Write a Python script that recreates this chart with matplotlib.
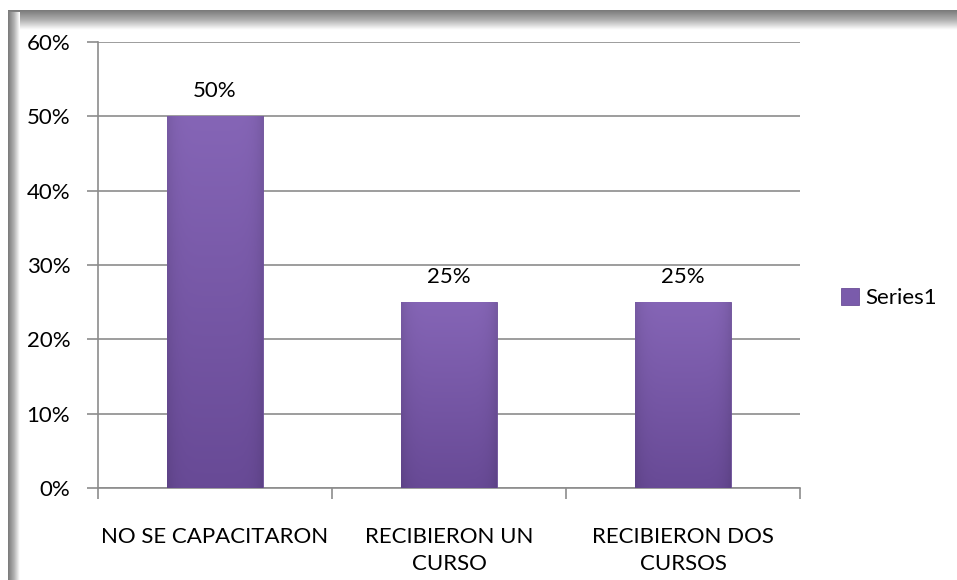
import numpy as np
import matplotlib.pyplot as plt
from matplotlib.colors import LinearSegmentedColormap, to_rgb

# chart values
categories = ['NO SE CAPACITARON', 'RECIBIERON UN\nCURSO', 'RECIBIERON DOS\nCURSOS']
values = [0.50, 0.25, 0.25]
labels = ['50%', '25%', '25%']
yticks = [0, 0.1, 0.2, 0.3, 0.4, 0.5, 0.6]
ytick_labels = ['0%', '10%', '20%', '30%', '40%', '50%', '60%']
series_name = 'Series1'

plt.rcParams['font.family'] = ['Lato', 'DejaVu Sans']
FS = 16

W, H = 957, 580
fig = plt.figure(figsize=(W / 100, H / 100), dpi=100)
fig.patch.set_facecolor('white')

# gray shadow frame along top and left edge
frame_cmap = LinearSegmentedColormap.from_list('frame', ['#7a7a7a', '#b0b0b0', '#ffffff'])
top_grad = np.linspace(0, 1, 40).reshape(-1, 1)
ax_top = fig.add_axes([8 / W, 1 - 30 / H, 1 - 8 / W, 20 / H])
ax_top.imshow(top_grad, aspect='auto', cmap=frame_cmap, extent=[0, 1, 0, 1])
ax_top.axis('off')
left_grad = np.linspace(0, 1, 40).reshape(1, -1)
ax_left = fig.add_axes([8 / W, 0, 12 / W, 1 - 12 / H])
ax_left.imshow(left_grad, aspect='auto', cmap=frame_cmap, extent=[0, 1, 0, 1])
ax_left.axis('off')

ax = fig.add_axes([98 / W, (H - 488) / H, (800 - 98) / W, (488 - 42) / H])
x = np.arange(len(categories))
bars = ax.bar(x, values, width=0.41, color='#7a5bab', edgecolor='#6a4d97', linewidth=0.6,
              zorder=3, label=series_name)

# shading on each bar: lighter top, darker bottom and edges
top_c = np.array(to_rgb('#8565b6'))
bot_c = np.array(to_rgb('#684a96'))
t = np.linspace(0, 1, 80).reshape(-1, 1, 1)
vert = top_c * (1 - t) + bot_c * t
u = np.linspace(-1, 1, 64)
side = 1 - 0.10 * np.abs(u) ** 6
shade = np.clip(vert * side.reshape(1, -1, 1), 0, 1)
for b in bars:
    x0, y0 = b.get_x(), b.get_y()
    w, h = b.get_width(), b.get_height()
    im = ax.imshow(shade, aspect='auto', extent=[x0, x0 + w, y0, y0 + h],
                   origin='upper', zorder=3.5)
    im.set_clip_path(b)

for xi, v, lab in zip(x, values, labels):
    ax.text(xi, v + 0.02, lab, ha='center', va='bottom', fontsize=FS, color='black')

ax.set_xlim(-0.5, len(categories) - 0.5)
ax.set_ylim(0, 0.6)
ax.set_yticks(yticks)
ax.set_yticklabels(ytick_labels, fontsize=FS)
ax.yaxis.grid(True, color='#8c8c8c', linewidth=1.2, zorder=0)
ax.set_axisbelow(True)

ax.set_xticks(x)
ax.set_xticklabels(categories, fontsize=FS, linespacing=1.45)
ax.tick_params(axis='x', length=0, pad=28)
ax.set_xticks(np.arange(len(categories) + 1) - 0.5, minor=True)
ax.tick_params(axis='x', which='minor', length=8, color='#8c8c8c', width=1.2)
ax.tick_params(axis='y', length=8, color='#8c8c8c', width=1.2, pad=12)

for s in ['top', 'right']:
    ax.spines[s].set_visible(False)
for s in ['left', 'bottom']:
    ax.spines[s].set_color('#8c8c8c')
    ax.spines[s].set_linewidth(1.2)

leg = ax.legend(loc='center left', bbox_to_anchor=(1.03, 0.426), frameon=False,
                fontsize=FS, handlelength=0.8, handleheight=0.8, handletextpad=0.3)

fig.savefig('out.png', dpi=100)
